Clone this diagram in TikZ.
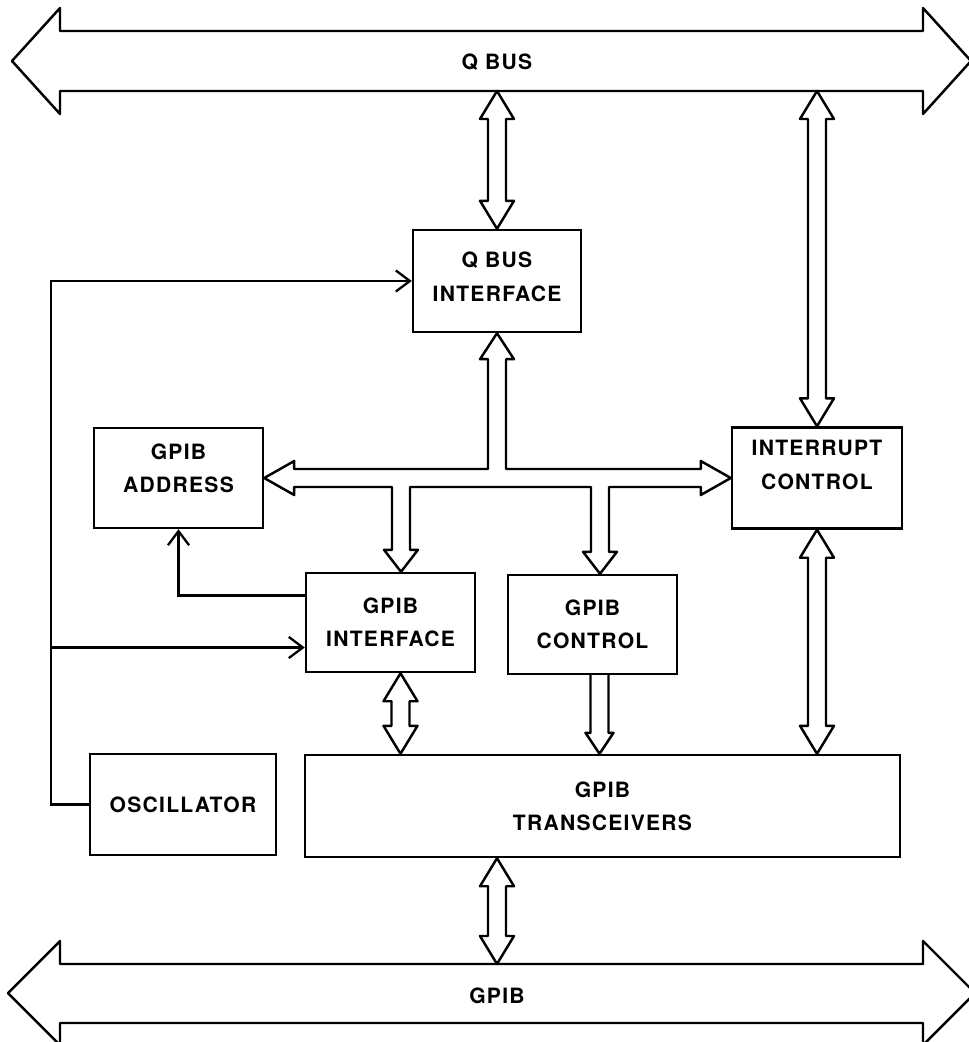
\documentclass[tikz,border=0pt]{standalone}
\usepackage{fontspec}
\setmainfont{TeX Gyre Heros}[LetterSpace=6]
\usetikzlibrary{calc,arrows.meta}

\tikzset{
  lbl/.style={font=\bfseries\fontsize{12}{19}\selectfont, align=center},
  blk/.style={lbl, draw, line width=1.4pt, inner sep=0pt},
  bus/.style={draw, line width=1.4pt, line join=round},
  clk/.style={line width=1.3pt, -{Straight Barb[length=8pt,width=12pt]}}
}

% hollow double arrow, #1 above #2
\newcommand{\dbus}[2]{%
  \draw[bus] (#1) -- ++(17,28) -- ++(-8,0) -- ($(#2)+(9,-28)$) -- ++(8,0) -- (#2)
    -- ++(-17,-28) -- ++(8,0) -- ($(#1)+(-9,28)$) -- ++(-8,0) -- cycle;}
% hollow single arrow, from #1 down to #2
\newcommand{\sbus}[2]{%
  \draw[bus] ($(#1)+(-9,0)$) -- ($(#2)+(-9,-21)$) -- ++(-5,0) -- (#2)
    -- ($(#2)+(14,-21)$) -- ++(-5,0) -- ($(#1)+(9,0)$);}

\begin{document}
\begin{tikzpicture}[x=0.02cm, y=-0.02cm]
  \useasboundingbox (0,0) rectangle (969,1042);
  % buses
  \draw[bus] (12,61) -- (60,8) -- (60,31) -- (923,31) -- (923,8) -- (971,61)
    -- (923,114) -- (923,91) -- (60,91) -- (60,114) -- cycle;
  \node[lbl] (qbus) at (497,62) {Q BUS};
  \coordinate (qbusS) at (497,91);
  \draw[bus] (8,993) -- (60,941) -- (60,964) -- (923,964) -- (923,941) -- (975,993)
    -- (923,1045) -- (923,1023) -- (60,1023) -- (60,1045) -- cycle;
  \node[lbl] (gpib) at (497,996) {GPIB};
  \coordinate (gpibN) at (497,964);
  % blocks
  \node[blk, minimum width=3.36cm, minimum height=2.04cm, text depth=5pt] (qbi) at (497,281) {Q BUS\\INTERFACE};
  \node[blk, minimum width=3.38cm, minimum height=2cm, text depth=11pt] (addr) at (178.5,478) {GPIB\\ADDRESS};
  \node[blk, minimum width=3.4cm, minimum height=2.02cm, text depth=15pt] (intr) at (817,478) {INTERRUPT\\CONTROL};
  \node[blk, minimum width=3.38cm, minimum height=1.98cm] (gint) at (390.5,622.5) {GPIB\\INTERFACE};
  \node[blk, minimum width=3.38cm, minimum height=1.98cm] (gctl) at (592.5,624.5) {GPIB\\CONTROL};
  \node[blk, minimum width=3.72cm, minimum height=2.02cm] (osc) at (183,804.5) {OSCILLATOR};
  \node[blk, minimum width=11.9cm, minimum height=2.04cm] (trx) at (602.5,806) {GPIB\\TRANSCEIVERS};
  % internal bus
  \coordinate (hub) at (qbi.south |- addr.east);
  \coordinate (gintT) at ($(gint.north)+(10.5,0)$);
  \coordinate (gctlT) at ($(gctl.north)+(7.5,0)$);
  \draw[bus] (qbi.south) -- ++(17,26) -- ++(-8,0) -- ($(hub)+(9,-9)$)
    -- ($(intr.west)+(-30,-9)$) -- ++(0,-8) -- (intr.west) -- ++(-30,17) -- ++(0,-8)
    -- ($(gctlT |- hub)+(9,9)$) -- ($(gctlT)+(9,-22)$) -- ++(8,0) -- (gctlT)
    -- ++(-17,-22) -- ++(8,0) -- ($(gctlT |- hub)+(-9,9)$)
    -- ($(gintT |- hub)+(9,9)$) -- ($(gintT)+(9,-22)$) -- ++(8,0) -- (gintT)
    -- ++(-17,-22) -- ++(8,0) -- ($(gintT |- hub)+(-9,9)$)
    -- ($(addr.east)+(30,9)$) -- ++(0,8) -- (addr.east) -- ++(30,-17) -- ++(0,8)
    -- ($(hub)+(-9,-9)$) -- ($(qbi.south)+(-9,26)$) -- ++(-8,0) -- cycle;
  % links
  \coordinate (gintB) at ($(gint.south)+(10,0)$);
  \coordinate (gctlB) at ($(gctl.south)+(7,0)$);
  \coordinate (qbiT) at (qbi.north |- qbusS);
  \coordinate (intrT) at (intr.north |- qbusS);
  \coordinate (trxA) at (gintB |- trx.north);
  \coordinate (trxB) at (intr.south |- trx.north);
  \coordinate (trxC) at (gctlB |- trx.north);
  \coordinate (trxD) at (gpibN |- trx.south);
  \foreach \a/\b in {qbiT/qbi.north, intrT/intr.north, gintB/trxA, intr.south/trxB, trxD/gpibN}
    \dbus{\a}{\b};
  \sbus{gctlB}{trxC}
  % clock
  \draw[clk] (osc.west) -- ++(-38,0) coordinate (clk) |- (qbi.west);
  \draw[clk] ($(clk |- gint.west)+(0,25)$) -- ($(gint.west)+(0,25)$);
  \draw[clk] ($(gint.west)+(0,-27)$) -| (addr.south);
\end{tikzpicture}
\end{document}
